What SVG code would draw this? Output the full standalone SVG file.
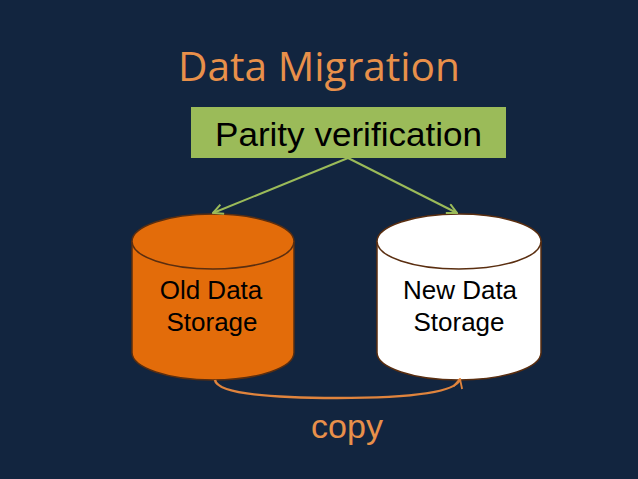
<svg xmlns="http://www.w3.org/2000/svg" width="638" height="479" viewBox="0 0 638 479">
  <defs>
    <style>
      .lbl { font-family: "Liberation Sans", Arial, sans-serif; fill: #000; text-anchor: middle; }
      .cyl { stroke: #5a2e10; stroke-width: 1.5; }
    </style>
    <marker id="ga" viewBox="0 0 12 12" refX="11" refY="6" markerWidth="12" markerHeight="12" markerUnits="userSpaceOnUse" orient="auto">
      <path d="M1,1 L11,6 L1,11" fill="none" stroke="#9bbb59" stroke-width="2"/>
    </marker>
    <marker id="oa" viewBox="0 0 12 12" refX="11" refY="6" markerWidth="11" markerHeight="11" markerUnits="userSpaceOnUse" orient="auto">
      <path d="M1,1 L11,6 L1,11" fill="none" stroke="#e0843d" stroke-width="2"/>
    </marker>
  </defs>
  <rect width="638" height="479" fill="#12253f"/>
  <text x="319" y="81" font-family="'Open Sans', sans-serif" font-size="41" fill="#e8904a" text-anchor="middle" textLength="282" lengthAdjust="spacingAndGlyphs">Data Migration</text>

  <g id="parity">
    <rect x="191" y="107" width="315" height="51" fill="#9bbb59"/>
    <text class="lbl" x="348.5" y="146" font-size="34" textLength="267" lengthAdjust="spacingAndGlyphs">Parity verification</text>
  </g>

  <g id="old">
    <path class="cyl" d="M132,241.5 L132,352.5 A81,27.5 0 0 0 294,352.5 L294,241.5 Z" fill="#e36c0a"/>
    <ellipse class="cyl" cx="213" cy="241.5" rx="81" ry="27.5" fill="#e36c0a"/>
    <text class="lbl" x="211" y="299" font-size="26">Old Data</text>
    <text class="lbl" x="212" y="331" font-size="26">Storage</text>
  </g>

  <g id="new">
    <path class="cyl" d="M377,241.5 L377,352.5 A82,27.5 0 0 0 541,352.5 L541,241.5 Z" fill="#ffffff"/>
    <ellipse class="cyl" cx="459" cy="241.5" rx="82" ry="27.5" fill="#ffffff"/>
    <text class="lbl" x="460" y="299" font-size="26">New Data</text>
    <text class="lbl" x="459" y="331" font-size="26">Storage</text>
  </g>

  <g id="connectors" fill="none">
    <line x1="348" y1="158" x2="213" y2="213" stroke="#9bbb59" stroke-width="2" marker-end="url(#ga)"/>
    <line x1="348" y1="158" x2="457" y2="213" stroke="#9bbb59" stroke-width="2" marker-end="url(#ga)"/>
    <path d="M215,380 Q218,398 337,398 Q455,398 460,379" stroke="#e0843d" stroke-width="2.5" marker-end="url(#oa)"/>
  </g>

  <text x="347" y="438" font-family="'Liberation Sans', Arial, sans-serif" font-size="34" fill="#e8904a" text-anchor="middle">copy</text>
</svg>
